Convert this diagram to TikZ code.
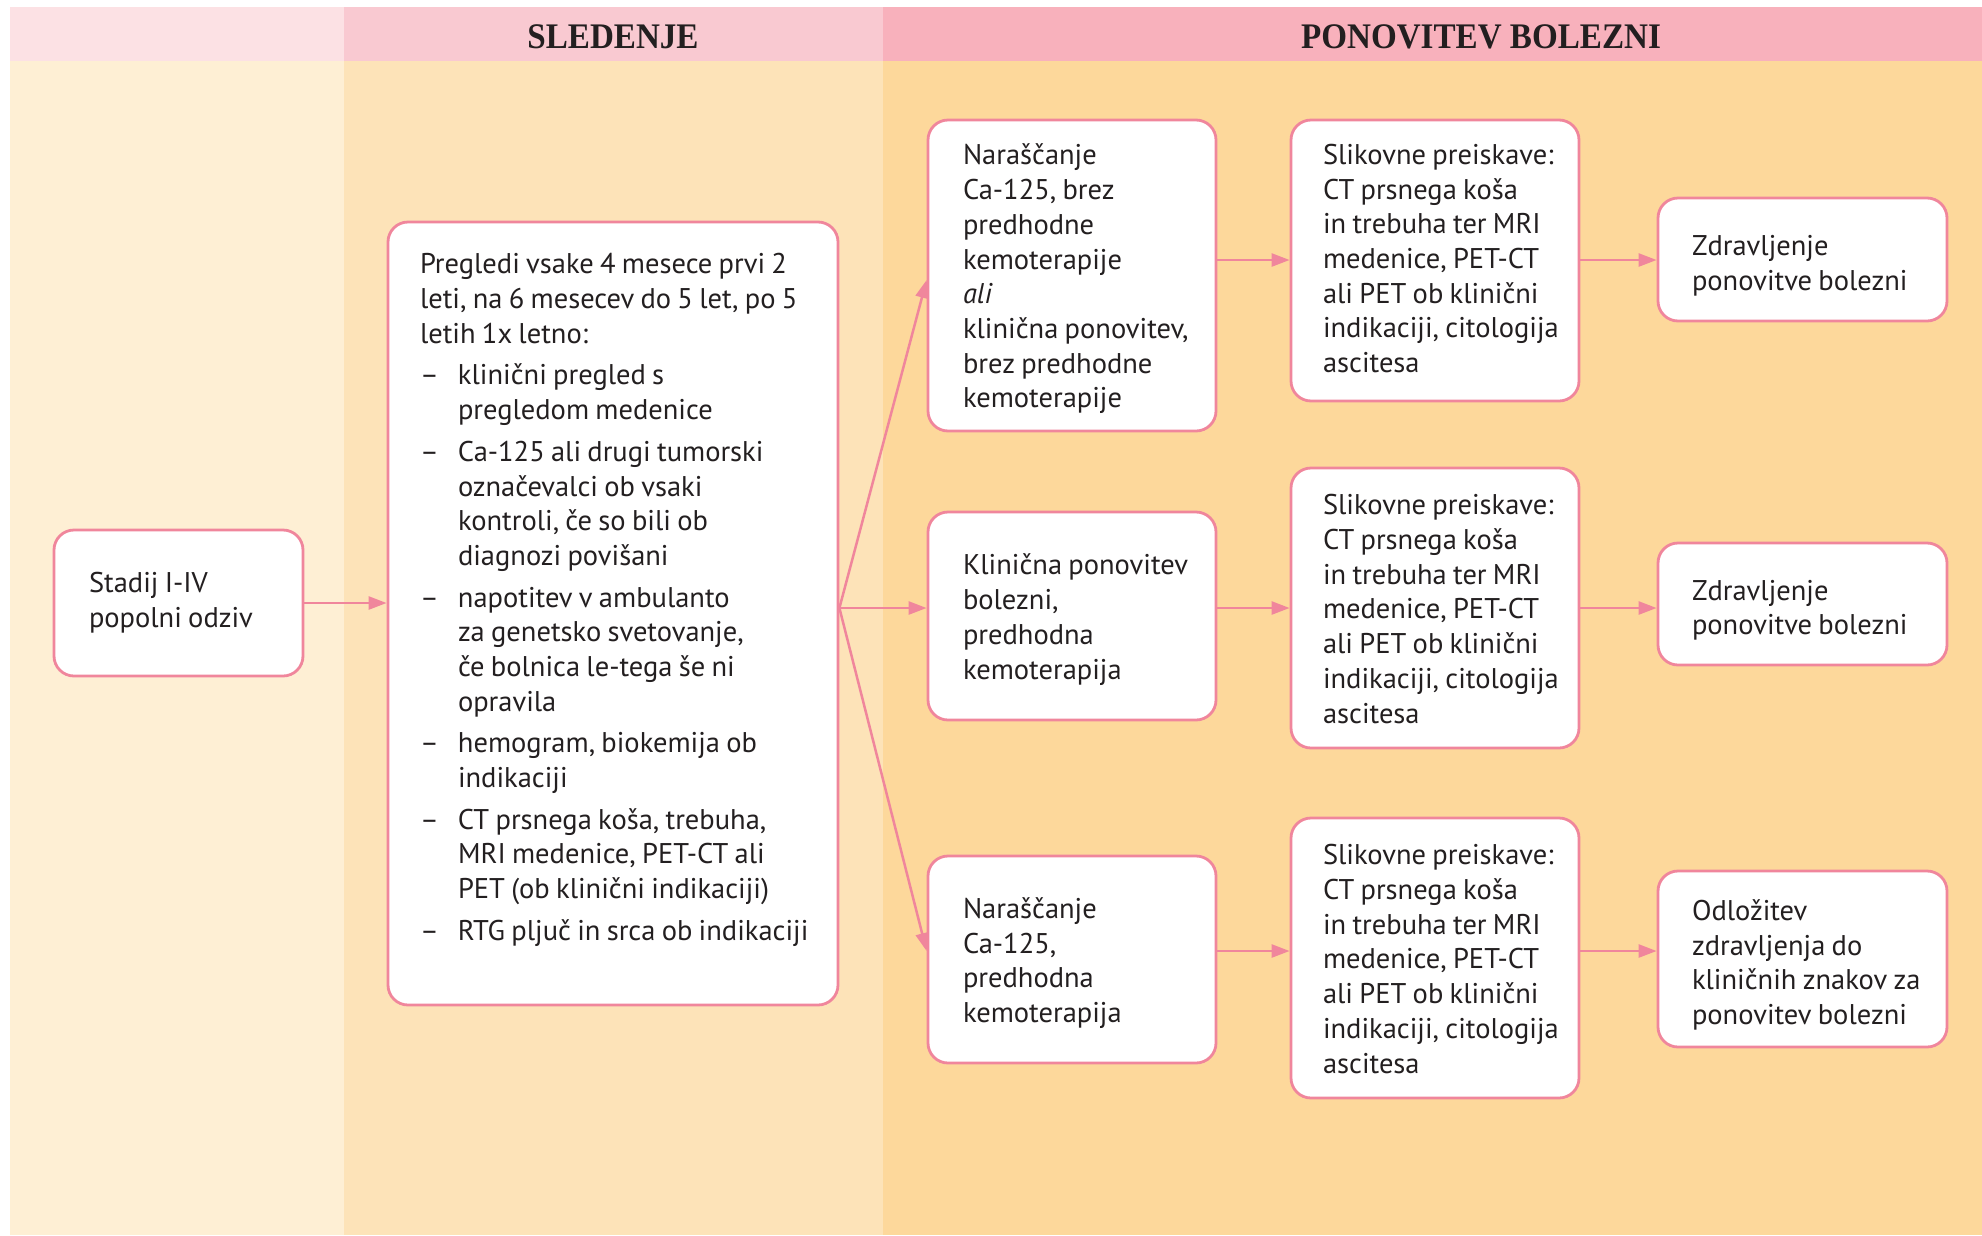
\documentclass[tikz,border=0pt]{standalone}
\usepackage{fontspec}
\setmainfont{PT Sans}
\newfontfamily\headfont[FakeStretch=0.92]{Liberation Serif}
\usetikzlibrary{arrows.meta}
\definecolor{hL}{HTML}{FCE1E4}
\definecolor{hM}{HTML}{F9C9D1}
\definecolor{hR}{HTML}{F8B1BC}
\definecolor{bL}{HTML}{FEEFD4}
\definecolor{bM}{HTML}{FDE3B8}
\definecolor{bR}{HTML}{FDD89B}
\definecolor{pk}{HTML}{F0869C}
\definecolor{txt}{HTML}{231F20}
\newcommand\bdash{\makebox[38pt][l]{–}}
\newcommand\bcont{\hspace*{38pt}}
\newcommand\tx[2][-4pt]{\spaceskip=6.3pt\relax\raisebox{#1}[\height][\depth]{\begin{tabular}{@{}l@{}}#2\end{tabular}}}
\tikzset{
  box/.style={draw=pk, line width=2.8pt, rounded corners=20pt, fill=white,
    text=txt, align=left, inner ysep=0pt,
    font=\fontsize{28.5}{34.7}\selectfont},
  arr/.style={draw=pk, line width=2.5pt, -{Triangle[length=18pt,width=13pt]}},
  hd/.style={text=txt, font=\headfont\bfseries\fontsize{36}{40}\selectfont, inner sep=0pt}
}
\begin{document}
\begin{tikzpicture}[x=1pt,y=-1pt]
\useasboundingbox (0,0) rectangle (1982,1235);
\fill[white] (0,0) rectangle (1982,1235);
% columns
\fill[bL] (10,61) rectangle (344,1235);
\fill[bM] (344,61) rectangle (883,1235);
\fill[bR] (883,61) rectangle (1982,1235);
\fill[hL] (10,7) rectangle (344,61);
\fill[hM] (344,7) rectangle (883,61);
\fill[hR] (883,7) rectangle (1982,61);
\node[hd] (h1) at (613,37) {SLEDENJE};
\node[hd] (h2) at (1481,37) {PONOVITEV BOLEZNI};
% rows
\coordinate (r1) at (0,260);
\coordinate (r2) at (0,608);
\coordinate (r3) at (0,951);
\coordinate (fa) at (0,280);
% boxes
\node[box, minimum width=249pt, minimum height=146pt, inner xsep=35pt, text width=179pt] (st) at (178.5,603)
  {\tx[0pt]{Stadij I-IV\\popolni odziv}};
\node[box, minimum width=450pt, minimum height=783pt, inner xsep=32pt, text width=386pt] (big) at (613,613.5)
  {\tx{
  Pregledi vsake 4 mesece prvi 2\\
  leti, na 6 mesecev do 5 let, po 5\\
  letih 1x letno:\\[7pt]
  \bdash klinični pregled s\\
  \bcont pregledom medenice\\[7pt]
  \bdash Ca-125 ali drugi tumorski\\
  \bcont označevalci ob vsaki\\
  \bcont kontroli, če so bili ob\\
  \bcont diagnozi povišani\\[7pt]
  \bdash napotitev v ambulanto\\
  \bcont za genetsko svetovanje,\\
  \bcont če bolnica le-tega še ni\\
  \bcont opravila\\[7pt]
  \bdash hemogram, biokemija ob\\
  \bcont indikaciji\\[7pt]
  \bdash CT prsnega koša, trebuha,\\
  \bcont MRI medenice, PET-CT ali\\
  \bcont PET (ob klinični indikaciji)\\[7pt]
  \bdash RTG pljuč in srca ob indikaciji\\
  \mbox{}}};
\node[box, minimum width=288pt, minimum height=311pt, inner xsep=35pt, text width=218pt] (c2a) at (1072,275.5)
  {\tx{Naraščanje\\Ca-125, brez\\predhodne\\kemoterapije\\\textit{ali}\\klinična ponovitev,\\brez predhodne\\kemoterapije}};
\node[box, minimum width=288pt, minimum height=208pt, inner xsep=35pt, text width=218pt] (c2b) at (1072,616)
  {\tx{Klinična ponovitev\\bolezni,\\predhodna\\kemoterapija}};
\node[box, minimum width=288pt, minimum height=207pt, inner xsep=35pt, text width=218pt] (c2c) at (1072,959.5)
  {\tx{Naraščanje\\Ca-125,\\predhodna\\kemoterapija}};
\node[box, minimum width=288pt, minimum height=281pt, inner xsep=32pt, text width=224pt] (c3a) at (1435,260.5)
  {\tx[-1pt]{Slikovne preiskave:\\CT prsnega koša\\in trebuha ter MRI\\medenice, PET-CT\\ali PET ob klinični\\indikaciji, citologija\\ascitesa}};
\node[box, minimum width=288pt, minimum height=280pt, inner xsep=32pt, text width=224pt] (c3b) at (1435,608)
  {\tx{Slikovne preiskave:\\CT prsnega koša\\in trebuha ter MRI\\medenice, PET-CT\\ali PET ob klinični\\indikaciji, citologija\\ascitesa}};
\node[box, minimum width=288pt, minimum height=280pt, inner xsep=32pt, text width=224pt] (c3c) at (1435,958)
  {\tx{Slikovne preiskave:\\CT prsnega koša\\in trebuha ter MRI\\medenice, PET-CT\\ali PET ob klinični\\indikaciji, citologija\\ascitesa}};
\node[box, minimum width=289pt, minimum height=123pt, inner xsep=34pt, text width=221pt] (c4a) at (1802.5,259.5)
  {\tx[-6.5pt]{Zdravljenje\\ponovitve bolezni}};
\node[box, minimum width=289pt, minimum height=122pt, inner xsep=34pt, text width=221pt] (c4b) at (1802.5,604)
  {\tx[-6.5pt]{Zdravljenje\\ponovitve bolezni}};
\node[box, minimum width=289pt, minimum height=176pt, inner xsep=34pt, text width=221pt] (c4c) at (1802.5,959)
  {\tx[-6.5pt]{Odložitev\\zdravljenja do\\kliničnih znakov za\\ponovitev bolezni}};
% connectors
\draw[arr] (st.east) -- (st.east -| big.west);
\draw[arr] (big.east |- r2) -- (c2a.west |- fa);
\draw[arr] (big.east |- r2) -- (c2b.west |- r2);
\draw[arr] (big.east |- r2) -- (c2c.west |- r3);
\draw[arr] (c2a.east |- r1) -- (c3a.west |- r1);
\draw[arr] (c2b.east |- r2) -- (c3b.west |- r2);
\draw[arr] (c2c.east |- r3) -- (c3c.west |- r3);
\draw[arr] (c3a.east |- r1) -- (c4a.west |- r1);
\draw[arr] (c3b.east |- r2) -- (c4b.west |- r2);
\draw[arr] (c3c.east |- r3) -- (c4c.west |- r3);
\end{tikzpicture}
\end{document}
